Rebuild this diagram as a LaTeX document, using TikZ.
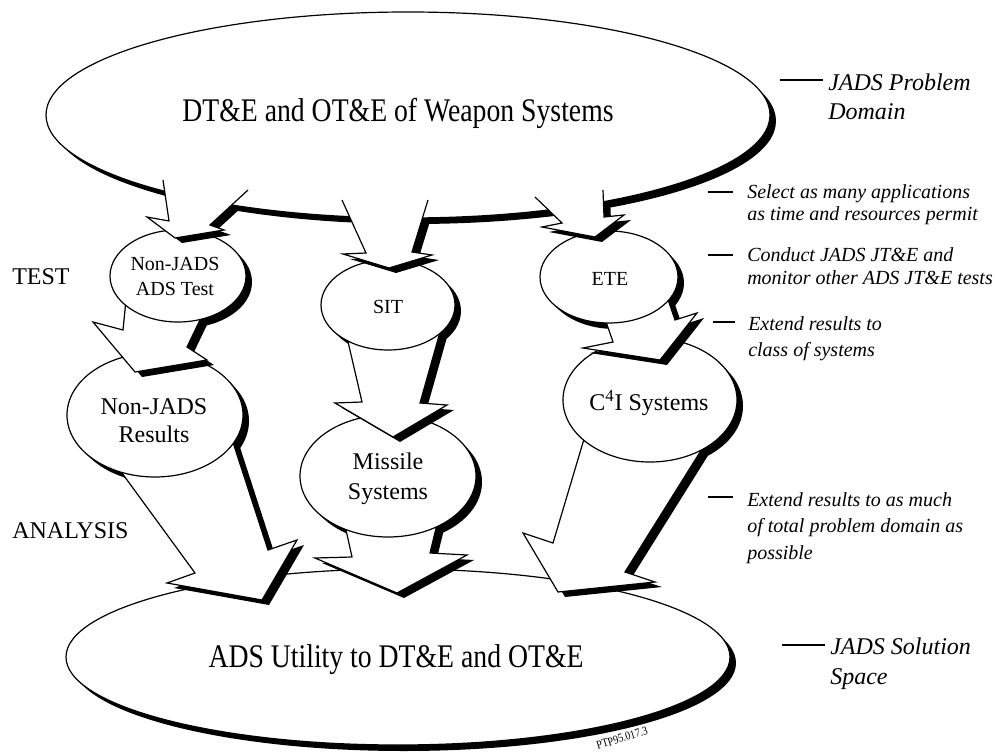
\documentclass[tikz,border=0pt]{standalone}
\usepackage{fontspec}
\setmainfont{Liberation Serif}[ItalicFont={Liberation Serif Italic}]
\newfontfamily\condfont[FakeStretch=0.84]{Liberation Serif}
\newfontfamily\notefont{Liberation Serif Italic}
\newcommand\arrshadow[7]{\fill[black,shift={(7,5)}] #1 -- #2 -- #3 -- #4 -- #5 -- #6 -- #7 -- cycle;}
\newcommand\arrbody[7]{\fill[white] #1 -- #2 -- #3 -- #4 -- #5 -- #6 -- #7 -- cycle;
  \draw[outl] #1 -- #2 -- #3 -- #4 -- #5 -- #6 -- #7;}
\begin{document}
\begin{tikzpicture}[x=0.75pt,y=-0.75pt,line join=miter,
  outl/.style={draw=black,line width=0.9pt},
  ellw/.style={fill=white,draw=black,line width=0.9pt},
  shad/.style={fill=black},
  dashl/.style={draw=black,line width=0.8pt},
  bigtitle/.style={inner sep=0pt,anchor=base,font=\condfont\fontsize{24.75}{28}\selectfont},
  smalltxt/.style={inner sep=0pt,align=center,font=\fontsize{15}{18.75}\selectfont},
  midtxt/.style={inner sep=0pt,align=center,font=\fontsize{18}{22}\selectfont},
  sidetxt/.style={inner sep=0pt,anchor=north west,font=\fontsize{18}{22}\selectfont},
  notebig/.style={inner sep=0pt,anchor=north west,align=left,font=\notefont\fontsize{18}{22.5}\selectfont},
  notesmall/.style={inner sep=0pt,anchor=north west,align=left,font=\notefont\fontsize{15}{17.25}\selectfont}]

\fill[white] (0,0) rectangle (995,752);
\useasboundingbox (0,0) rectangle (995,752);

% ellipse centres
\coordinate (cTop) at (408,115);
\coordinate (cBot) at (398,657);
\coordinate (cNJT) at (178,276);
\coordinate (cSIT) at (388,305);
\coordinate (cETE) at (609,277);
\coordinate (cNJR) at (155,415);
\coordinate (cMIS) at (388,476);
\coordinate (cC4I) at (650,400);

% ---- bottom ellipse
\fill[shad] ([shift={(6,6)}]cBot) ellipse [x radius=332, y radius=88];
\filldraw[ellw] (cBot) ellipse [x radius=332, y radius=88];
\node[bigtitle] (bot) at (396,667) {ADS Utility to DT\&E and OT\&E};

% ---- level 2 shadows
\fill[shad] ([shift={(6,6)}]cNJR) ellipse [x radius=88, y radius=62];
\fill[shad] ([shift={(6,6)}]cMIS) ellipse [x radius=88, y radius=61];
\fill[shad] ([shift={(6,6)}]cC4I) ellipse [x radius=87, y radius=62];

% ---- arrows level 2 -> bottom
\arrshadow{(111,458)}{(195,573)}{(167,583)}{(262,600)}{(297,540)}{(268,550)}{(228,427)}
\arrbody{(111,458)}{(195,573)}{(167,583)}{(262,600)}{(297,540)}{(268,550)}{(228,427)}
\arrshadow{(342,512)}{(352,557)}{(315,558)}{(397,593)}{(467,555)}{(430,553)}{(440,512)}
\arrbody{(342,512)}{(352,557)}{(315,558)}{(397,593)}{(467,555)}{(430,553)}{(440,512)}
\arrshadow{(587,429)}{(553,543)}{(523,533)}{(558,592)}{(655,582)}{(625,572)}{(712,433)}
\arrbody{(587,429)}{(553,543)}{(523,533)}{(558,592)}{(655,582)}{(625,572)}{(712,433)}

% ---- level 2 ellipses
\filldraw[ellw] (cNJR) ellipse [x radius=88, y radius=62];
\filldraw[ellw] (cMIS) ellipse [x radius=88, y radius=61];
\filldraw[ellw] (cC4I) ellipse [x radius=87, y radius=62];
\node[midtxt,anchor=north,font=\fontsize{18}{21}\selectfont] (njr) at (154,398) {Non-JADS\\Results};
\node[midtxt,anchor=north,font=\fontsize{18}{22.5}\selectfont] (mis) at (388,453) {Missile\\Systems};
\node[midtxt,anchor=base] (c4i) at (649,410) {C\textsuperscript{4}I Systems};

% ---- level 1 shadows
\fill[shad] ([shift={(6,6)}]cNJT) ellipse [x radius=68, y radius=46];
\fill[shad] ([shift={(6,6)}]cSIT) ellipse [x radius=67, y radius=45];
\fill[shad] ([shift={(6,6)}]cETE) ellipse [x radius=69, y radius=46];

% ---- arrows level 1 -> level 2
\arrshadow{(127,290)}{(123,330)}{(93,322)}{(135,372)}{(207,360)}{(187,347)}{(212,295)}
\arrbody{(127,290)}{(123,330)}{(93,322)}{(135,372)}{(207,360)}{(187,347)}{(212,295)}
\arrshadow{(343,320)}{(362,402)}{(335,403)}{(393,437)}{(447,405)}{(420,403)}{(444,318)}
\arrbody{(343,320)}{(362,402)}{(335,403)}{(393,437)}{(447,405)}{(420,403)}{(444,318)}
\arrshadow{(602,310)}{(613,342)}{(583,348)}{(660,360)}{(697,313)}{(675,320)}{(663,285)}
\arrbody{(602,310)}{(613,342)}{(583,348)}{(660,360)}{(697,313)}{(675,320)}{(663,285)}

% ---- level 1 ellipses
\filldraw[ellw] (cNJT) ellipse [x radius=68, y radius=46];
\filldraw[ellw] (cSIT) ellipse [x radius=67, y radius=45];
\filldraw[ellw] (cETE) ellipse [x radius=69, y radius=46];
\node[smalltxt,anchor=north] (njt) at (175,257) {Non-JADS\\ADS Test};
\node[smalltxt,anchor=base] (sit) at (388,313) {SIT};
\node[smalltxt,anchor=base] (ete) at (610,286) {ETE};

% ---- top ellipse and its arrows
\fill[shad] ([shift={(6,6)}]cTop) ellipse [x radius=362, y radius=103];
\arrshadow{(163,180)}{(169,221)}{(147,217)}{(175,238)}{(224,230)}{(210,225)}{(248,190)}
\arrshadow{(342,200)}{(366,253)}{(343,254)}{(389,268)}{(432,255)}{(412,252)}{(428,200)}
\arrshadow{(535,197)}{(562,223)}{(542,227)}{(595,237)}{(624,215)}{(604,217)}{(603,190)}
\filldraw[ellw] (cTop) ellipse [x radius=362, y radius=103];
\node[bigtitle] (top) at (398,122) {DT\&E and OT\&E of Weapon Systems};
\arrbody{(163,180)}{(169,221)}{(147,217)}{(175,238)}{(224,230)}{(210,225)}{(248,190)}
\arrbody{(342,200)}{(366,253)}{(343,254)}{(389,268)}{(432,255)}{(412,252)}{(428,200)}
\arrbody{(535,197)}{(562,223)}{(542,227)}{(595,237)}{(624,215)}{(604,217)}{(603,190)}

% ---- left labels
\node[sidetxt] (test) at (12,268) {TEST};
\node[sidetxt] (analysis) at (12,522) {ANALYSIS};

% ---- right notes
\node[notebig,font=\notefont\fontsize{18}{21.75}\selectfont] (prob) at (828,74) {JADS Problem\\Domain};
\node[notesmall,font=\notefont\fontsize{15}{16.5}\selectfont] (sel) at (747,184) {Select as many applications\\as time and resources permit};
\node[notesmall] (cond) at (747,247) {Conduct JADS JT\&E and\\monitor other ADS JT\&E tests};
\node[notesmall,font=\notefont\fontsize{15}{20}\selectfont] (ext1) at (748,316) {Extend results to\\class of systems};
\node[notesmall,font=\notefont\fontsize{15}{20}\selectfont] (ext2) at (747,492) {Extend results to as much\\of total problem domain as\\possible};
\node[notebig] (sol) at (830,638) {JADS Solution\\Space};

\draw[dashl] ([shift={(-48,6)}]prob.north west) -- ++(43,0);
\draw[dashl] ([shift={(-39,8)}]sel.north west) -- ++(25,0);
\draw[dashl] ([shift={(-39,8)}]cond.north west) -- ++(25,0);
\draw[dashl] ([shift={(-35,6)}]ext1.north west) -- ++(22,0);
\draw[dashl] ([shift={(-39,5)}]ext2.north west) -- ++(25,0);
\draw[dashl] ([shift={(-48,7)}]sol.north west) -- ++(43,0);

\node[inner sep=0pt,rotate=17,font=\condfont\fontsize{9}{10}\selectfont] (ptp) at (622,738) {PTP95.017.3};
\end{tikzpicture}
\end{document}
